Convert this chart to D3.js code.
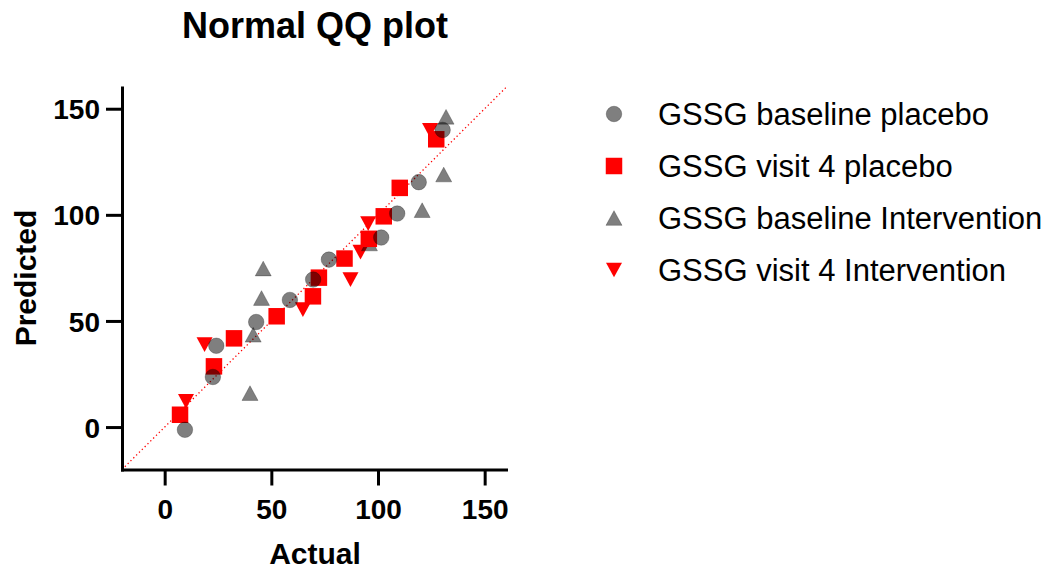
<!DOCTYPE html>
<html>
<head>
<meta charset="utf-8">
<script src="https://cdn.jsdelivr.net/npm/d3@7"></script>
<style>
  body { margin: 0; background: #fff; }
  svg { display: block; font-family: "Liberation Sans", Arial, sans-serif; }
</style>
</head>
<body>
<div id="chart"></div>
<script>
// values: [actual, predicted]
const baselinePlacebo = [[9.5, -1.3], [22.6, 23.6], [24.2, 38.3], [42.9, 49.5], [58.7, 59.9], [69.6, 69.5],
    [77, 78.9], [101.5, 89.3], [109, 100.6], [119.1, 115.4], [130.3, 140]];
const visit4Placebo = [[7.2, 5.8], [23.1, 28.6], [32.5, 41.8], [52.5, 52.2], [69.5, 61.6], [72.3, 70.4],
    [84.3, 79.4], [95.7, 88.7], [102.7, 99.3], [110.2, 112.7], [127.3, 135.6]];
const baselineIntervention = [[40, 16], [41.5, 43.5], [45.4, 60.8], [46.2, 74.7], [96, 86.5], [120.7, 102.2],
    [130.8, 119], [131.9, 146.2]];
const visit4Intervention = [[10, 12.1], [18.7, 38.8], [64.8, 55.3], [87.1, 69.5], [91.8, 82.4], [95.4, 95.9],
    [124.4, 139.8]];

const seriesNames = ['GSSG baseline placebo', 'GSSG visit 4 placebo', 'GSSG baseline Intervention', 'GSSG visit 4 Intervention'];
const xTicks = [0, 50, 100, 150];
const yTicks = [0, 50, 100, 150];
const axisDomain = [-20, 160];

document.addEventListener('DOMContentLoaded', function() {
    const width = 1057;
    const height = 575;

    const triUp = {
        draw(ctx, size) {
            const w = Math.sqrt(size), h = w * 0.92;
            ctx.moveTo(0, -h / 2); ctx.lineTo(w / 2, h / 2); ctx.lineTo(-w / 2, h / 2); ctx.closePath();
        }
    };
    const triDown = {
        draw(ctx, size) {
            const w = Math.sqrt(size), h = w * 0.92;
            ctx.moveTo(0, h / 2); ctx.lineTo(w / 2, -h / 2); ctx.lineTo(-w / 2, -h / 2); ctx.closePath();
        }
    };

    const series = [
        { name: seriesNames[0], data: baselinePlacebo, type: d3.symbolCircle, size: 190, gray: true },
        { name: seriesNames[1], data: visit4Placebo, type: d3.symbolSquare, size: 272, gray: false },
        { name: seriesNames[2], data: baselineIntervention, type: triUp, size: 256, gray: true },
        { name: seriesNames[3], data: visit4Intervention, type: triDown, size: 256, gray: false }
    ];

    const svg = d3.select('#chart')
        .append('svg')
        .attr('width', width)
        .attr('height', height);

    const xScale = d3.scaleLinear().domain(axisDomain).range([122, 506]);
    const yScale = d3.scaleLinear().domain(axisDomain).range([469.5, 87.5]);

    // identity line
    svg.append('line')
        .attr('x1', xScale(axisDomain[0]))
        .attr('y1', yScale(axisDomain[0]))
        .attr('x2', xScale(axisDomain[1]))
        .attr('y2', yScale(axisDomain[1]))
        .attr('stroke', '#ff0000')
        .attr('stroke-width', 1.3)
        .attr('stroke-dasharray', '1.3,2.7');

    const styleMark = function(sel, s) {
        if (s.gray) {
            sel.attr('fill', '#000').attr('fill-opacity', 0.5)
                .attr('stroke', '#000').attr('stroke-opacity', 0.25).attr('stroke-width', 1);
        } else {
            sel.attr('fill', '#ff0000');
        }
    };

    // first series ends up on top
    series.slice().reverse().forEach(s => {
        const sym = d3.symbol().type(s.type).size(s.size);
        svg.append('g')
            .selectAll('path')
            .data(s.data)
            .enter()
            .append('path')
            .attr('d', sym)
            .attr('transform', d => `translate(${xScale(d[0])},${yScale(d[1])})`)
            .call(sel => styleMark(sel, s));
    });

    const xAxis = d3.axisBottom(xScale).tickValues(xTicks).tickSize(16).tickSizeOuter(0);
    const yAxis = d3.axisLeft(yScale).tickValues(yTicks).tickSize(16).tickSizeOuter(0);

    const gx = svg.append('g')
        .attr('transform', `translate(0, ${yScale(axisDomain[0])})`)
        .call(xAxis);
    const gy = svg.append('g')
        .attr('transform', `translate(${xScale(axisDomain[0])}, 0)`)
        .call(yAxis);

    [gx, gy].forEach(g => {
        g.select('.domain').attr('stroke', '#000').attr('stroke-width', 3).attr('stroke-linecap', 'square');
        g.selectAll('.tick line').attr('stroke', '#000').attr('stroke-width', 3);
        g.selectAll('.tick text')
            .attr('fill', '#000')
            .style('font-size', '28px')
            .style('font-weight', 'bold')
            .style('font-family', '"Liberation Sans", Arial, sans-serif');
    });
    gx.selectAll('.tick text').attr('y', 49).attr('dy', null);
    gy.selectAll('.tick text').attr('x', -22).attr('dy', '0.36em');

    // titles
    svg.append('text')
        .attr('x', 315)
        .attr('y', 38)
        .attr('text-anchor', 'middle')
        .style('font-size', '36px')
        .style('font-weight', 'bold')
        .text('Normal QQ plot');

    svg.append('text')
        .attr('x', 315)
        .attr('y', 564)
        .attr('text-anchor', 'middle')
        .style('font-size', '30px')
        .style('font-weight', 'bold')
        .text('Actual');

    svg.append('text')
        .attr('transform', 'translate(36, 278) rotate(-90)')
        .attr('text-anchor', 'middle')
        .style('font-size', '30px')
        .style('font-weight', 'bold')
        .text('Predicted');

    // legend
    const legend = svg.append('g');
    series.forEach((s, i) => {
        const y = 114 + i * 52;
        legend.append('path')
            .attr('d', d3.symbol().type(s.type).size(s.size)())
            .attr('transform', `translate(614, ${y})`)
            .call(sel => styleMark(sel, s));
        legend.append('text')
            .attr('x', 658)
            .attr('y', y + 11)
            .style('font-size', '31px')
            .attr('fill', '#000')
            .text(s.name);
    });
});
</script>
</body>
</html>
